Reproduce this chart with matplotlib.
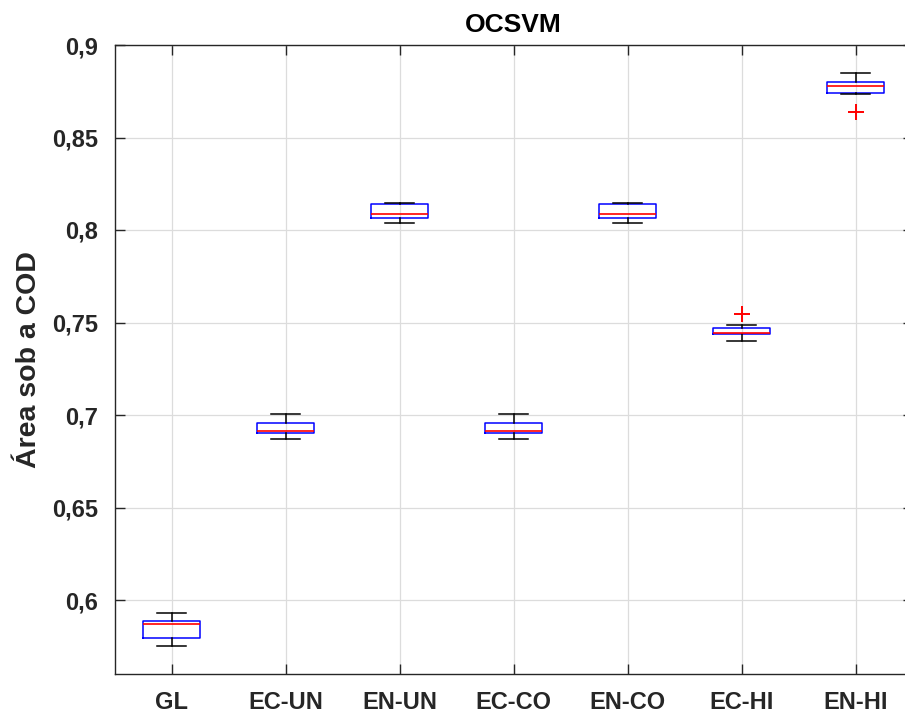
import matplotlib
matplotlib.use("Agg")
import matplotlib.pyplot as plt
from matplotlib.ticker import FuncFormatter

plt.rcParams['font.family'] = ['Liberation Sans', 'DejaVu Sans']

# Summary statistics of the AUC per configuration
categories = ["GL", "EC-UN", "EN-UN", "EC-CO", "EN-CO", "EC-HI", "EN-HI"]
whisker_low = [0.5753, 0.6870, 0.8036, 0.6870, 0.8036, 0.7402, 0.8737]
q1_values = [0.5793, 0.6904, 0.8063, 0.6904, 0.8063, 0.7436, 0.8741]
medians = [0.5869, 0.6915, 0.8088, 0.6915, 0.8088, 0.7445, 0.8778]
q3_values = [0.5886, 0.6957, 0.8139, 0.6957, 0.8139, 0.7472, 0.8798]
whisker_high = [0.5931, 0.7003, 0.8146, 0.7003, 0.8146, 0.7488, 0.8849]
outliers = [[], [], [], [], [], [0.7544], [0.8640]]

y_ticks = [0.6, 0.65, 0.7, 0.75, 0.8, 0.85, 0.9]

stats = []
for i, name in enumerate(categories):
    stats.append(dict(label=name, whislo=whisker_low[i], q1=q1_values[i],
                      med=medians[i], q3=q3_values[i], whishi=whisker_high[i],
                      fliers=outliers[i]))

fig = plt.figure(figsize=(9.05, 7.13), dpi=100)
ax = fig.add_axes([114.5 / 905, 39 / 713, 798 / 905, 629 / 713])

ax.bxp(stats, positions=range(1, len(categories) + 1), widths=0.5,
       boxprops=dict(color="#0000ff", linewidth=1.1),
       medianprops=dict(color="#ff0000", linewidth=1.2),
       whiskerprops=dict(color="black", linewidth=1.1),
       capprops=dict(color="black", linewidth=1.1),
       capwidths=0.25,
       flierprops=dict(marker="+", markeredgecolor="#ff0000", markersize=11,
                       markeredgewidth=1.4, linestyle="none"),
       zorder=3)

ax.set_xlim(0.5, 7.5)
ax.set_ylim(0.56, 0.9)
ax.set_yticks(y_ticks)
ax.yaxis.set_major_formatter(FuncFormatter(lambda v, p: f"{v:g}".replace(".", ",")))
ax.set_xticks(range(1, len(categories) + 1))
ax.set_xticklabels(categories)

ax.grid(True, color="#dcdcdc", linewidth=0.9, zorder=0)
ax.set_axisbelow(True)
for sp in ax.spines.values():
    sp.set_color("#262626")
    sp.set_linewidth(1.0)
ax.tick_params(direction="in", length=7, width=1.0, color="#262626",
               top=True, right=True, labelsize=17, labelcolor="#262626")
ax.tick_params(axis="y", pad=12)
ax.tick_params(axis="x", pad=12)
for lbl in ax.get_xticklabels() + ax.get_yticklabels():
    lbl.set_fontweight("bold")

ax.set_ylabel("Área sob a COD", fontsize=20.5, fontweight="bold", color="#262626", labelpad=7)
ax.set_title("OCSVM", fontsize=19, fontweight="bold", color="black", pad=9)

fig.savefig("out.png", dpi=100)
